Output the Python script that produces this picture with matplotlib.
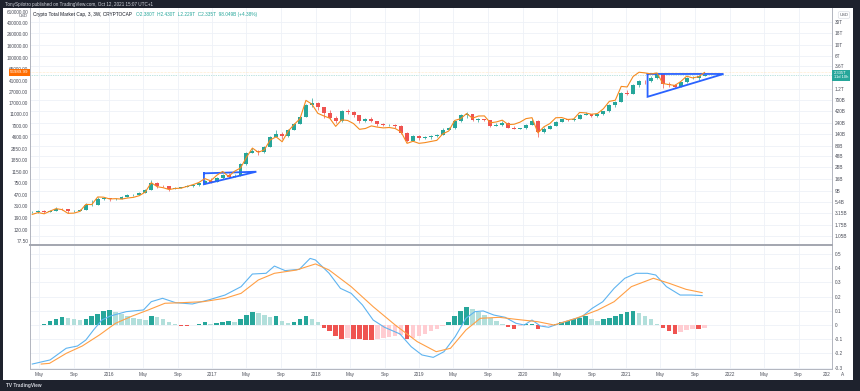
import matplotlib
matplotlib.use('Agg')
import matplotlib.pyplot as plt
import matplotlib.dates as mdates
from matplotlib.patches import Rectangle
import numpy as np

plt.rcParams['font.family'] = ['Liberation Sans', 'DejaVu Sans']

# ---- data: 3W candles of total crypto market cap (billions USD), BTC close overlay
first_bar = np.datetime64('2015-04-06')
bar_days = 21
first_open = 3.25

cap_close = [3.3, 3.4, 3.3, 3.5, 3.9, 3.8, 3.4, 3.5, 3.6, 4.6,
             4.7, 6.2, 6.4, 6.1, 6.3, 6.9, 7.4, 7.6, 8.2, 9.6,
             13.3, 11.6, 11.3, 10.0, 10.6, 10.8, 11.5, 11.9, 13.0, 14.5,
             14.0, 16.5, 19.5, 18.0, 19.0, 33, 57, 62, 58, 75,
             123, 140, 125, 170, 230, 320, 560, 610, 500, 390,
             300, 260, 410, 400, 340, 260, 280, 255, 220, 215,
             215, 200, 145, 100, 125, 115, 118, 125, 135, 170,
             185, 255, 345, 355, 275, 280, 270, 205, 215, 240,
             190, 180, 185, 215, 265, 155, 180, 205, 250, 280,
             270, 290, 350, 360, 330, 355, 410, 560, 650, 1000,
             950, 1450, 1800, 1750, 2050, 2450, 1500, 1450, 1330, 1650,
             2000, 2050, 2237, 2335]
cap_high = [3.5, 3.6, 3.55, 3.6, 4.2, 4.0, 3.9, 3.65, 3.8, 5.0,
            6.0, 6.7, 6.9, 6.6, 6.6, 7.2, 7.8, 7.9, 8.5, 10.0,
            15.5, 13.8, 12.0, 11.6, 10.9, 11.1, 11.8, 12.3, 13.4, 15.2,
            16.5, 17.8, 20.5, 21.0, 20.0, 34, 60, 70, 66, 78,
            128, 170, 150, 180, 240, 330, 600, 780, 640, 520,
            430, 330, 450, 460, 410, 350, 300, 310, 260, 235,
            225, 220, 210, 150, 135, 130, 125, 130, 140, 185,
            195, 265, 360, 400, 360, 300, 290, 275, 235, 260,
            245, 200, 190, 225, 285, 275, 195, 215, 260, 290,
            285, 300, 365, 400, 370, 365, 420, 580, 680, 1050,
            1150, 1500, 1850, 1900, 2200, 2550, 2550, 1700, 1500, 1700,
            2100, 2250, 2300, 2430]
cap_low = [3.1, 3.2, 3.2, 3.25, 3.45, 3.6, 3.1, 3.3, 3.4, 3.55,
           4.4, 4.6, 6.0, 5.6, 5.9, 6.1, 6.8, 7.2, 7.5, 8.1,
           9.5, 10.2, 10.8, 9.2, 9.8, 10.4, 10.7, 11.2, 11.7, 12.9,
           13.5, 13.8, 16.0, 16.8, 17.5, 18.8, 32, 55, 50, 56,
           73, 120, 108, 122, 165, 220, 310, 500, 440, 300,
           280, 240, 250, 370, 310, 240, 250, 245, 205, 200,
           200, 190, 140, 95, 98, 105, 108, 112, 122, 132,
           165, 180, 250, 300, 255, 250, 255, 195, 200, 205,
           185, 175, 175, 180, 210, 120, 148, 175, 200, 245,
           255, 265, 285, 340, 315, 320, 345, 400, 520, 640,
           900, 940, 1300, 1500, 1700, 1950, 1250, 1300, 1250, 1300,
           1600, 1950, 1850, 2229]
btc_close = [220, 236, 225, 250, 275, 265, 229, 231, 247, 325,
             323, 435, 431, 402, 407, 400, 417, 428, 458, 528,
             760, 650, 625, 581, 607, 613, 657, 703, 766, 893,
             818, 1015, 1180, 970, 1190, 1350, 2050, 2950, 2500, 2750,
             4060, 4580, 3780, 5700, 7400, 9300, 19100, 16500, 11500, 10400,
             9500, 6900, 8900, 8700, 7700, 6150, 6350, 7030, 6700, 6500,
             6600, 6350, 5550, 3550, 3850, 3550, 3650, 3820, 3990, 5150,
             5750, 8700, 9300, 11400, 9500, 10350, 10400, 7950, 8200, 8800,
             7400, 7500, 8150, 9350, 9700, 5350, 6780, 7700, 9670, 9750,
             9050, 9200, 11900, 11700, 11100, 11400, 13750, 18400, 19200, 33000,
             32300, 48700, 57500, 56000, 53700, 56000, 37000, 35500, 34300, 39900,
             49300, 46000, 48200, 56989.99]

# MACD panel (bar index, value)
macd_idx = [0, 3, 5.7, 7.6, 9, 10.3, 11.7, 13.1, 15.8, 18.7, 20, 21.9, 24.1, 26.9,
            29.6, 32.4, 35.1, 37, 39.3, 40.7, 42.5, 44.9, 46.7, 47.6, 49.9, 51.8,
            53.6, 55.5, 57.3, 59.2, 61.8, 63.7, 65.5, 67.4, 69.2, 71.1, 72.9, 74.4,
            75.8, 77.6, 79.5, 81.3, 82.7, 84, 85.4, 86.8, 88.7, 90.5, 92.4, 94.1,
            95.9, 97.8, 99.6, 101.5, 103.4, 104.8, 106.6, 108.9, 110.8, 112.6]
macd_val = [-0.275, -0.246, -0.164, -0.148, -0.106, -0.035, 0.035, 0.063, 0.094, 0.106,
            0.164, 0.188, 0.157, 0.148, 0.176, 0.211, 0.27, 0.359, 0.364, 0.415,
            0.383, 0.392, 0.469, 0.458, 0.364, 0.258, 0.223, 0.141, 0.035, -0.016,
            -0.063, -0.153, -0.211, -0.228, -0.188, -0.082, 0.047, 0.094, 0.099, 0.07,
            0.054, 0.012, 0.0, 0.035, -0.007, -0.016, 0.012, 0.035, 0.059, 0.117,
            0.164, 0.258, 0.329, 0.364, 0.364, 0.352, 0.27, 0.211, 0.211, 0.207]
signal_idx = [1.5, 2.9, 5.7, 8.4, 11.3, 14, 16.8, 19.5, 22.3, 25, 28.7, 32.4, 35.1,
              38, 40.7, 44.4, 47.6, 49.9, 53.6, 57.3, 61, 64.7, 67.9, 70.3, 72.9,
              75.3, 78.5, 81.3, 85, 87.7, 91.4, 95.1, 97.8, 100.7, 104.4, 107.1,
              109.9, 112.6]
signal_val = [-0.275, -0.27, -0.2, -0.148, -0.07, 0.012, 0.063, 0.106, 0.153, 0.157,
              0.164, 0.188, 0.223, 0.317, 0.364, 0.387, 0.43, 0.387, 0.27, 0.129,
              0.0, -0.117, -0.188, -0.164, -0.035, 0.047, 0.054, 0.04, 0.023, 0.0,
              0.047, 0.106, 0.164, 0.27, 0.329, 0.293, 0.251, 0.228]
nan = float('nan')
hist = [nan, nan, 0.01, 0.025, 0.04, 0.055, 0.05, 0.04, 0.035, 0.04,
        0.06, 0.08, 0.10, 0.105, 0.09, 0.075, 0.06, 0.05, 0.04, 0.035,
        0.06, 0.055, 0.04, 0.02, 0.005, -0.005, -0.008, -0.003, 0.005, 0.02,
        0.01, 0.015, 0.02, 0.025, 0.02, 0.045, 0.07, 0.095, 0.085, 0.07,
        0.055, 0.06, 0.03, 0.015, 0.02, 0.045, 0.06, 0.045, 0.02, -0.02,
        -0.045, -0.075, -0.1, -0.09, -0.096, -0.1, -0.103, -0.106, -0.1, -0.095,
        -0.085, -0.075, -0.07, -0.1, -0.09, -0.075, -0.06, -0.04, -0.025, -0.01,
        0.02, 0.06, 0.1, 0.13, 0.11, 0.09, 0.07, 0.05, 0.03, 0.01,
        -0.015, -0.025, -0.01, 0.005, 0.007, -0.03, -0.01, -0.005, 0.01, 0.02,
        0.03, 0.04, 0.05, 0.06, 0.045, 0.03, 0.04, 0.05, 0.06, 0.08,
        0.09, 0.1, 0.085, 0.06, 0.04, 0.01, -0.02, -0.04, -0.06, -0.05,
        -0.035, -0.025, -0.03, -0.02]

# trendline drawings (date, market cap in billions)
tri_2021 = (['2021-03-17', '2021-12-10', '2021-03-17', '2021-03-17'], [2480, 2480, 830, 2480])
tri_2017 = (['2016-12-02', '2017-06-05', '2016-12-02', '2016-12-02'], [21.1, 22.8, 12.5, 21.1])

cap_ticks = [30e3, 18e3, 10e3, 6e3, 3.6e3, 1.2e3, 700, 420, 240, 140, 80, 48, 28, 16, 9, 5.4, 3.15, 1.75, 1.05]
cap_labels = ['30T', '18T', '10T', '6T', '3.6T', '1.2T', '700B', '420B', '240B', '140B', '80B',
              '48B', '28B', '16B', '9B', '5.4B', '3.15B', '1.75B', '1.05B']
btc_ticks = [610000, 400000, 260000, 160000, 100000, 65000, 41000, 27000, 17000, 11000, 7000,
             4600, 2850, 1850, 1150, 750, 470, 310, 190, 120, 77.5]
macd_ticks = [0.5, 0.4, 0.3, 0.2, 0.1, 0, -0.1, -0.2, -0.3]

# ---- figure
W, H = 860, 391
fx = lambda px: px / W
fy = lambda py: 1 - py / H
dark = '#1e222d'
grid_c = '#eef1f7'
axis_c = '#b2b5be'
txt_c = '#4c4f5a'
up_c, dn_c = '#26a69a', '#ef5350'
fs = 3.4

fig = plt.figure(figsize=(8.6, 3.91), dpi=100, facecolor=dark)
fig.patches.append(Rectangle((fx(3), fy(380)), fx(853) - fx(3), fy(8) - fy(380),
                             transform=fig.transFigure, facecolor='white', edgecolor='none', zorder=-10))

x0 = mdates.date2num(np.datetime64('2015-03-29'))
x1 = mdates.date2num(np.datetime64('2022-12-28'))
bars = first_bar + np.arange(len(cap_close)) * bar_days
bx = mdates.date2num(bars)
idx2x = lambda idx: mdates.date2num(first_bar) + np.array(idx) * bar_days

ax_cap = fig.add_axes([fx(30), fy(245), fx(832) - fx(30), fy(8) - fy(245)])
ax_btc = ax_cap.twinx()
ax_btc.set_zorder(ax_cap.get_zorder() + 1)
ax_btc.patch.set_visible(False)
ax_cap.patch.set_visible(False)

# candles
closes = np.array(cap_close) * 1e9
opens = np.concatenate([[first_open * 1e9], closes[:-1]])
highs = np.array(cap_high) * 1e9
lows = np.array(cap_low) * 1e9
colors = [up_c if c >= o else dn_c for o, c in zip(opens, closes)]
body_lo = np.minimum(opens, closes)
body_h = np.maximum(np.abs(closes - opens), body_lo * 0.012)
ax_cap.vlines(bx, lows, highs, colors=colors, lw=0.5, zorder=2)
ax_cap.bar(bx, body_h, bottom=body_lo, width=14, color=colors, lw=0, zorder=3)

for tri in (tri_2021, tri_2017):
    ax_cap.plot(mdates.date2num(np.array(tri[0], dtype='datetime64[D]')), np.array(tri[1]) * 1e9,
                color='#2962ff', lw=1.3, zorder=4, solid_joinstyle='miter')

ax_cap.axhline(2335e9, color='#26a69a', lw=0.5, ls=(0, (1, 1.5)), alpha=0.6, zorder=1)
ax_btc.axhline(btc_close[-1], color='#ff9800', lw=0.4, ls=(0, (1, 1.5)), alpha=0.4, zorder=1)
ax_btc.plot(bx, btc_close, color='#f68a1e', lw=0.8, zorder=5)

ax_cap.set_yscale('log')
ax_btc.set_yscale('log')
ax_cap.set_ylim(10 ** 8.8312, 10 ** 13.7687)
ax_btc.set_ylim(10 ** 1.8214, 10 ** 5.852)
ax_cap.set_xlim(x0, x1)

# The right axis belongs to the market cap; the left one to BTC
ax_cap.yaxis.tick_right()
ax_btc.yaxis.tick_left()
ax_cap.set_yticks(np.array(cap_ticks) * 1e9, labels=cap_labels)
ax_btc.set_yticks(btc_ticks, labels=['%.2f' % v for v in btc_ticks])
ax_cap.minorticks_off()
ax_btc.minorticks_off()
ax_cap.tick_params(axis='y', which='both', length=0, pad=2.2, labelsize=fs, labelcolor=txt_c,
                   right=True, labelright=True, left=False, labelleft=False)
ax_btc.tick_params(axis='y', which='both', length=0, pad=1.3, labelsize=fs, labelcolor=txt_c,
                   left=True, labelleft=True, right=False, labelright=False)

xt, xl = [], []
for yr in range(2015, 2023):
    for m, lab in ((1, str(yr)), (5, 'May'), (9, 'Sep')):
        d = mdates.date2num(np.datetime64('%d-%02d-01' % (yr, m)))
        if x0 < d < x1:
            xt.append(d)
            xl.append(lab)
ax_cap.set_xticks(xt)
ax_cap.tick_params(axis='x', length=0, labelbottom=False)
ax_btc.tick_params(axis='x', length=0, labelbottom=False)
ax_cap.grid(True, color=grid_c, lw=0.6, zorder=0)

for a in (ax_cap, ax_btc):
    for s in a.spines.values():
        s.set_visible(False)
for k in ('left', 'right', 'bottom'):
    ax_cap.spines[k].set_visible(True)
    ax_cap.spines[k].set_color(axis_c)
    ax_cap.spines[k].set_linewidth(0.7)
ax_cap.spines['bottom'].set_color('#a3a6af')
ax_cap.spines['bottom'].set_linewidth(1.4)

# last value labels
ax_cap.annotate('2.335T\n11d 10h', xy=(1, 2335e9), xycoords=('axes fraction', 'data'),
                xytext=(1.2, 0), textcoords='offset points', ha='left', va='center',
                fontsize=3.0, color='white', linespacing=1.0, annotation_clip=False,
                bbox=dict(boxstyle='square,pad=0.35', fc='#26a69a', ec='none'))
ax_btc.annotate('56989.99', xy=(0, btc_close[-1]), xycoords=('axes fraction', 'data'),
                xytext=(-1.0, 0), textcoords='offset points', ha='right', va='center',
                fontsize=3.2, color='white', annotation_clip=False,
                bbox=dict(boxstyle='square,pad=0.35', fc='#ff6d00', ec='none'))

# MACD panel
ax_m = fig.add_axes([fx(30), fy(369), fx(832) - fx(30), fy(246) - fy(369)])
ax_m.patch.set_visible(False)
hcol = []
prev = 0.0
for h in hist:
    if np.isnan(h):
        hcol.append('none')
        continue
    if h >= 0:
        hcol.append('#26a69a' if h > prev else '#b2dfdb')
    else:
        hcol.append('#ef5350' if h < prev else '#ffcdd2')
    prev = h
ax_m.bar(bx, np.nan_to_num(hist), width=16, color=hcol, lw=0, zorder=2)
ax_m.plot(idx2x(macd_idx), macd_val, color='#5fb4f0', lw=0.8, zorder=3)
ax_m.plot(idx2x(signal_idx), signal_val, color='#ff9f45', lw=0.8, zorder=3)
ax_m.set_xlim(x0, x1)
ax_m.set_ylim(-0.3099, 0.5563)
ax_m.yaxis.tick_right()
ax_m.set_yticks(macd_ticks, labels=['%g' % v for v in macd_ticks])
ax_m.set_xticks(xt, labels=xl)
ax_m.tick_params(axis='y', length=0, pad=2.2, labelsize=fs, labelcolor=txt_c)
ax_m.tick_params(axis='x', length=0, pad=2.2, labelsize=fs, labelcolor=txt_c)
ax_m.grid(True, color=grid_c, lw=0.6, zorder=0)
for k, s in ax_m.spines.items():
    s.set_visible(k != 'top')
    s.set_color(axis_c)
    s.set_linewidth(0.7)

# header, legend, footer text
fig.text(fx(5), fy(4.2), 'TonySpilotro published on TradingView.com, Oct 12, 2021 15:07 UTC+1',
         color='#d1d4dc', fontsize=3.3, va='center')
title = fig.text(fx(33), fy(14.7), 'Crypto Total Market Cap, 3, 3W, CRYPTOCAP', color='#131722',
                 fontsize=fs, va='center')
fig.canvas.draw()
tx_end = title.get_window_extent().x1 + 4
fig.text(tx_end / W, fy(14.7), 'O2.380T  H2.430T  L2.229T  C2.335T  98.049B (+4.38%)',
         color='#26a69a', fontsize=fs, va='center')
fig.text(fx(28), fy(15.6), 'USD', color=txt_c, fontsize=3.0, va='center', ha='right')
fig.text(fx(844), fy(15), 'USD', color=txt_c, fontsize=3.0, va='center', ha='center',
         bbox=dict(boxstyle='round,pad=0.3', fc='white', ec='#d1d4dc', lw=0.4))
fig.text(fx(827), fy(374), '202', color=txt_c, fontsize=fs, va='center', ha='center')
fig.text(fx(843), fy(374), 'A', color=txt_c, fontsize=fs, va='center', ha='center')
fig.text(fx(6), fy(385.5), 'TV TradingView', color='#d1d4dc', fontsize=3.4, va='center',
         fontweight='bold')

fig.savefig('out.png', dpi=100, facecolor=dark)
